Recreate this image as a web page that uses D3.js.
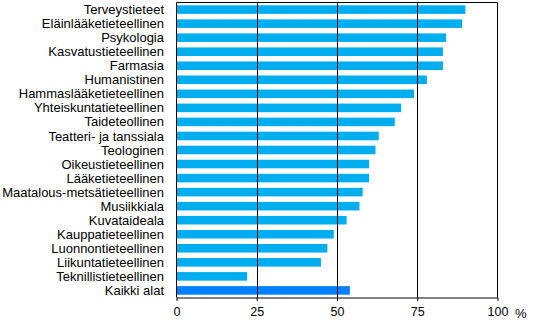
<!DOCTYPE html>
<html><head><meta charset="utf-8">
<script src="https://cdn.jsdelivr.net/npm/d3@7"></script>
<style>body{margin:0;background:#fff}svg{display:block}text{font-family:Arial,"Liberation Sans",sans-serif}</style>
</head><body><svg id="c" width="538" height="325"></svg>
<script>
const categories = ["Terveystieteet","Eläinlääketieteellinen","Psykologia","Kasvatustieteellinen","Farmasia","Humanistinen","Hammaslääketieteellinen","Yhteiskuntatieteellinen","Taideteollinen","Teatteri- ja tanssiala","Teologinen","Oikeustieteellinen","Lääketieteellinen","Maatalous-metsätieteellinen","Musiikkiala","Kuvataideala","Kauppatieteellinen","Luonnontieteellinen","Liikuntatieteellinen","Teknillistieteellinen","Kaikki alat"];
const values = [90,89,84,83,83,78,74,70,68,63,62,60,60,58,57,53,49,47,45,22,54];
const ticks = [0,25,50,75,100];
const unit = "%";

const svg = d3.select("#c");
const L = 176.5, R = 497.5, T = 2.5, B = 297.5;
const x = d3.scaleLinear().domain([0,100]).range([L,R]);
const y = d3.scaleBand().domain(categories).range([T,B]).paddingInner(0.39).paddingOuter(0.2);

// bars
svg.append("g").selectAll("rect").data(categories).join("rect")
  .attr("x", x(0)).attr("y", d=>y(d))
  .attr("width", (d,i)=>x(values[i])-x(0)).attr("height", y.bandwidth())
  .attr("fill", (d,i)=> i===categories.length-1 ? "#0080ff" : "#00aeef");

// gridlines
svg.append("g").selectAll("line").data(ticks.slice(1,-1)).join("line")
  .attr("x1", d=>Math.round(x(d))+0.5).attr("x2", d=>Math.round(x(d))+0.5)
  .attr("y1", T).attr("y2", B).attr("stroke","#000");

// frame top/right
svg.append("path").attr("d",`M${L},${T}H${R}V${B}`).attr("fill","none").attr("stroke","#000");
// left axis
svg.append("line").attr("x1",L).attr("x2",L).attr("y1",T).attr("y2",B).attr("stroke","#000");

// bottom axis
const xa = svg.append("g").attr("transform",`translate(0,${B})`)
  .call(d3.axisBottom(x).tickValues(ticks).tickSize(3.5).tickSizeOuter(0).tickPadding(6));
xa.select(".domain").attr("stroke","#000");
xa.selectAll(".tick line").attr("stroke","#000");
xa.selectAll("text").attr("font-size",12.5).attr("fill","#000").attr("font-family","Arial, 'Liberation Sans', sans-serif");
svg.append("text").attr("x",515).attr("y",318).attr("font-size",13).text(unit);

// category labels
svg.append("g").selectAll("text").data(categories).join("text")
  .attr("x",164).attr("y",d=>y(d)+y.bandwidth()/2).attr("dy","0.35em")
  .attr("text-anchor","end").attr("font-size",13).attr("fill","#000").text(d=>d);
</script></body></html>
